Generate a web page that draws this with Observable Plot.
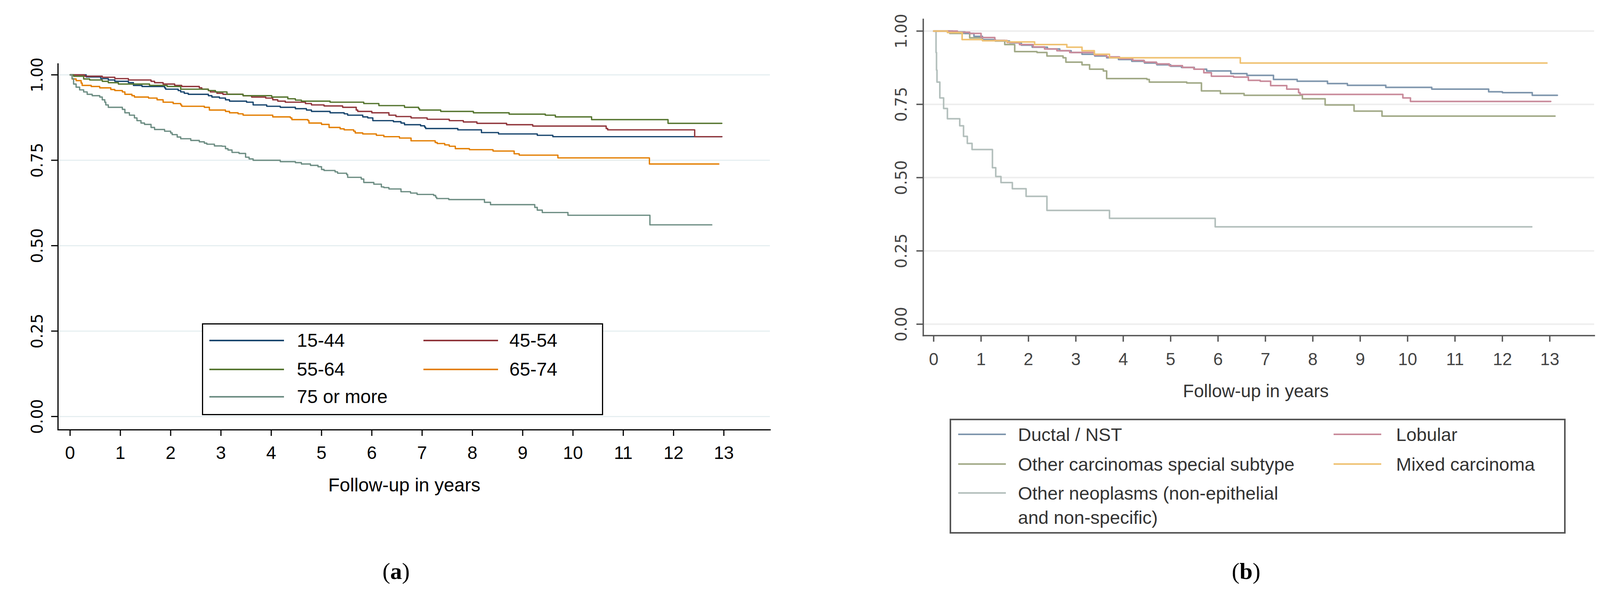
<!DOCTYPE html>
<html>
<head>
<meta charset="utf-8">
<script src="https://cdn.jsdelivr.net/npm/d3@7"></script>
<script src="https://cdn.jsdelivr.net/npm/@observablehq/plot@0.6"></script>
<style>
html,body{margin:0;padding:0;background:#fff;}
body{width:4111px;height:1522px;position:relative;overflow:hidden;font-family:"Liberation Sans",Arial,sans-serif;}
.abs{position:absolute;}
.legend{position:absolute;background:#fff;box-sizing:border-box;}
.sw{position:absolute;height:4px;}
.lt{position:absolute;white-space:nowrap;line-height:1;}
.cap{position:absolute;font-family:"Liberation Serif","Times New Roman",serif;font-size:60px;transform:translate(-50%,-50%);}
.xt{position:absolute;white-space:nowrap;transform:translate(-50%,-50%);}
</style>
</head>
<body>
<div id="pa" class="abs" style="left:0;top:0"></div>
<div id="pb" class="abs" style="left:2100px;top:0"></div>
<div id="la" class="legend" style="left:517px;top:827px;width:1027px;height:235px;border:3px solid #000;"></div>
<div id="lb" class="legend" style="left:2431px;top:1071px;width:1577px;height:294px;border:4px solid #555;"></div>
<div class="xt" style="left:1035px;top:1240px;font-size:48px;color:#000;">Follow-up in years</div>
<div class="xt" style="left:3215px;top:1000px;font-size:46px;color:#333;">Follow-up in years</div>
<div class="cap" style="left:1014px;top:1461px;">(<b>a</b>)</div>
<div class="cap" style="left:3190px;top:1461px;">(<b>b</b>)</div>
<script>
// ---------- shared ticks ----------
const yTicks = [0, 0.25, 0.5, 0.75, 1];
const xTicks = [0, 1, 2, 3, 4, 5, 6, 7, 8, 9, 10, 11, 12, 13];

// ---------- panel (a): age groups ----------
const namesA = ["15-44", "45-54", "55-64", "65-74", "75 or more"];
const colorsA = ["#1a476f", "#90353b", "#55752f", "#e37e00", "#6e8e84"];

const age15_44 = [[0,1],[0.32,0.994],[0.61,0.989],[0.76,0.985],[0.89,0.981],[1.16,0.977],[1.26,0.969],[1.43,0.966],[1.88,0.962],[1.90,0.958],[2.15,0.954],[2.20,0.950],[2.27,0.946],[2.35,0.943],[2.75,0.939],[2.82,0.935],[2.97,0.932],[3.09,0.927],[3.17,0.923],[3.51,0.920],[3.64,0.912],[3.91,0.908],[4.18,0.905],[4.48,0.901],[4.70,0.897],[4.80,0.893],[5.17,0.889],[5.45,0.886],[5.52,0.882],[5.82,0.877],[5.92,0.874],[6.02,0.866],[6.43,0.863],[6.58,0.859],[6.65,0.854],[6.97,0.851],[7.05,0.847],[7.07,0.843],[7.71,0.839],[8.18,0.831],[8.52,0.827],[9.29,0.823],[9.60,0.819],[12.96,0.819]];
const age45_54 = [[0,1],[0.29,0.996],[0.64,0.993],[0.89,0.989],[1.16,0.985],[1.61,0.981],[1.68,0.977],[1.85,0.973],[2.08,0.969],[2.22,0.966],[2.57,0.962],[2.62,0.958],[2.75,0.954],[2.79,0.950],[2.92,0.946],[3.04,0.943],[3.44,0.939],[3.61,0.935],[3.89,0.932],[4.03,0.927],[4.13,0.923],[4.28,0.920],[4.68,0.916],[4.80,0.912],[5.05,0.909],[5.42,0.905],[5.69,0.897],[5.72,0.893],[6.00,0.889],[6.34,0.882],[6.48,0.878],[6.78,0.874],[7.10,0.870],[7.54,0.866],[7.82,0.862],[8.09,0.858],[8.68,0.854],[9.20,0.850],[10.66,0.843],[10.69,0.839],[12.42,0.819],[12.96,0.819]];
const age55_64 = [[0,1],[0.07,0.996],[0.27,0.988],[0.39,0.985],[0.64,0.981],[0.76,0.977],[0.96,0.973],[1.58,0.969],[1.93,0.966],[2.20,0.958],[2.75,0.954],[2.89,0.950],[3.12,0.943],[3.44,0.939],[4.01,0.935],[4.33,0.930],[4.48,0.926],[4.60,0.923],[5.17,0.920],[5.84,0.916],[6.14,0.910],[6.65,0.905],[6.93,0.901],[6.95,0.897],[7.37,0.893],[8.02,0.889],[8.73,0.885],[9.45,0.882],[9.65,0.877],[10.37,0.869],[11.89,0.858],[12.96,0.858]];
const age65_74 = [[0,1],[0.04,0.988],[0.12,0.983],[0.22,0.976],[0.24,0.969],[0.42,0.966],[0.59,0.962],[0.81,0.957],[0.89,0.954],[1.04,0.950],[1.09,0.943],[1.23,0.939],[1.28,0.935],[1.56,0.932],[1.73,0.927],[1.85,0.920],[2.05,0.916],[2.20,0.912],[2.22,0.908],[2.67,0.905],[2.77,0.897],[3.09,0.893],[3.17,0.889],[3.34,0.886],[3.44,0.882],[4.03,0.877],[4.38,0.874],[4.41,0.869],[4.73,0.866],[4.75,0.859],[5.00,0.855],[5.15,0.846],[5.37,0.842],[5.45,0.839],[5.64,0.835],[5.67,0.830],[5.82,0.827],[6.09,0.823],[6.24,0.819],[6.55,0.815],[6.78,0.807],[7.26,0.802],[7.30,0.799],[7.45,0.795],[7.54,0.791],[7.66,0.784],[7.94,0.781],[8.41,0.777],[8.83,0.769],[8.93,0.765],[9.70,0.757],[11.52,0.739],[12.90,0.739]];
const age75plus = [[0,1],[0.04,0.989],[0.07,0.973],[0.12,0.964],[0.19,0.956],[0.27,0.950],[0.34,0.943],[0.44,0.939],[0.59,0.935],[0.64,0.927],[0.69,0.920],[0.71,0.912],[0.76,0.905],[1.04,0.899],[1.09,0.889],[1.18,0.882],[1.28,0.874],[1.33,0.866],[1.41,0.859],[1.48,0.855],[1.61,0.846],[1.68,0.840],[1.88,0.835],[2.00,0.830],[2.03,0.825],[2.13,0.818],[2.20,0.813],[2.40,0.808],[2.57,0.804],[2.67,0.800],[2.72,0.797],[2.87,0.792],[3.02,0.791],[3.09,0.784],[3.14,0.780],[3.22,0.773],[3.36,0.770],[3.49,0.759],[3.56,0.754],[3.64,0.750],[4.18,0.746],[4.48,0.743],[4.60,0.739],[4.78,0.735],[4.93,0.731],[5.00,0.723],[5.05,0.720],[5.27,0.716],[5.32,0.712],[5.50,0.708],[5.52,0.700],[5.79,0.695],[5.84,0.685],[6.04,0.680],[6.19,0.672],[6.24,0.670],[6.34,0.666],[6.58,0.658],[6.77,0.654],[6.90,0.650],[7.23,0.647],[7.27,0.642],[7.29,0.638],[7.53,0.635],[8.24,0.627],[8.36,0.620],[9.24,0.612],[9.29,0.604],[9.39,0.597],[9.90,0.589],[11.53,0.561],[12.76,0.561]];

// ---------- panel (b): histological type ----------
const namesB = ["Ductal / NST", "Lobular", "Other carcinomas special subtype", "Mixed carcinoma", "Other neoplasms (non-epithelial\nand non-specific)"];
const colorsB = ["#7f96ad", "#c98b9b", "#a2aa88", "#efc273", "#b3bfbc"];

const ductal = [[0,1],[0.40,0.997],[0.66,0.992],[0.85,0.982],[1.03,0.971],[1.30,0.966],[1.60,0.960],[1.85,0.952],[2.08,0.945],[2.40,0.939],[2.66,0.933],[2.90,0.927],[3.13,0.921],[3.40,0.915],[3.65,0.909],[3.90,0.903],[4.18,0.897],[4.45,0.891],[4.71,0.885],[5.00,0.880],[5.23,0.876],[5.50,0.870],[5.76,0.864],[6.27,0.855],[6.61,0.849],[7.17,0.835],[7.67,0.829],[8.31,0.821],[8.73,0.815],[9.54,0.808],[10.51,0.802],[11.71,0.793],[12.00,0.790],[12.63,0.781],[13.16,0.781]];
const lobular = [[0,1],[0.50,0.996],[0.76,0.992],[1.00,0.978],[1.29,0.968],[1.55,0.961],[1.81,0.954],[2.10,0.946],[2.34,0.939],[2.60,0.933],[2.87,0.927],[3.39,0.918],[3.65,0.912],[3.92,0.906],[4.20,0.900],[4.44,0.894],[4.70,0.888],[4.97,0.882],[5.25,0.876],[5.49,0.870],[5.70,0.858],[5.86,0.846],[6.33,0.843],[6.64,0.832],[6.89,0.829],[7.11,0.814],[7.45,0.802],[7.70,0.790],[7.73,0.784],[9.90,0.772],[10.06,0.760],[13.02,0.760]];
const otherCarc = [[0,1],[0.34,0.992],[0.76,0.977],[1.03,0.968],[1.50,0.954],[1.71,0.930],[2.18,0.927],[2.39,0.915],[2.73,0.909],[2.79,0.894],[3.13,0.885],[3.29,0.870],[3.58,0.864],[3.65,0.838],[4.50,0.835],[4.55,0.826],[5.34,0.823],[5.65,0.796],[6.05,0.787],[6.55,0.781],[7.78,0.769],[8.26,0.748],[8.87,0.727],[9.46,0.710],[13.11,0.710]];
const mixed = [[0,1],[0.29,0.995],[0.60,0.971],[1.03,0.967],[1.55,0.963],[2.13,0.954],[2.81,0.945],[3.13,0.933],[3.39,0.921],[3.71,0.909],[6.47,0.891],[12.94,0.891]];
const otherNeo = [[0,1],[0.05,0.927],[0.06,0.867],[0.07,0.826],[0.13,0.772],[0.21,0.736],[0.29,0.701],[0.55,0.677],[0.63,0.641],[0.71,0.617],[0.81,0.596],[1.24,0.534],[1.31,0.504],[1.42,0.483],[1.66,0.462],[1.95,0.436],[2.39,0.388],[3.71,0.361],[5.94,0.332],[12.62,0.332]];

// ---------- build tables ----------
const seriesA = [age15_44, age45_54, age55_64, age65_74, age75plus];
const rowsA = seriesA.flatMap((s, i) => s.map(([t, v]) => ({t, v, g: namesA[i]})));
const seriesB = [otherNeo, otherCarc, ductal, lobular, mixed];
const orderB = [4, 2, 0, 1, 3];
const rowsB = seriesB.flatMap((s, i) => s.map(([t, v]) => ({t, v, g: namesB[orderB[i]]})));

const fmtY = d3.format(".2f");
const fmtX = d3.format("d");

const plotA = Plot.plot({
  width: 2050, height: 1200,
  marginLeft: 148, marginTop: 163, marginRight: 79, marginBottom: 101,
  x: {domain: [-0.24, 13.92]},
  y: {domain: [-0.039, 1.032]},
  color: {domain: namesA, range: colorsA},
  style: {background: "transparent", overflow: "visible", color: "#000"},
  marks: [
    Plot.gridY(yTicks, {stroke: "#e6eff1", strokeOpacity: 1, strokeWidth: 3}),
    Plot.frame({anchor: "left", stroke: "#000", strokeWidth: 3}),
    Plot.frame({anchor: "bottom", stroke: "#000", strokeWidth: 3}),
    Plot.axisY(yTicks, {tickSize: 17, tickRotate: -90, tickPadding: 23, tickFormat: fmtY, fontSize: 40, fontFamily: "DejaVu Sans", label: null, strokeWidth: 3, fill: "#000"}),
    Plot.axisX(xTicks, {tickSize: 16, tickPadding: 26, tickFormat: fmtX, fontSize: 46, fontFamily: "Liberation Sans", label: null, strokeWidth: 3, fill: "#000"}),
    Plot.line(rowsA, {x: "t", y: "v", z: "g", stroke: "g", curve: "step-after", strokeWidth: 3.4})
  ]
});
document.getElementById("pa").appendChild(plotA);

const plotB = Plot.plot({
  width: 2011, height: 960,
  marginLeft: 263, marginTop: 49, marginRight: 30, marginBottom: 102,
  x: {domain: [-0.22, 13.94]},
  y: {domain: [-0.039, 1.04]},
  color: {domain: namesB, range: colorsB},
  style: {background: "transparent", overflow: "visible", color: "#444"},
  marks: [
    Plot.gridY(yTicks, {stroke: "#eeeeee", strokeOpacity: 1, strokeWidth: 4}),
    Plot.frame({anchor: "left", stroke: "#555", strokeWidth: 3.5}),
    Plot.frame({anchor: "bottom", stroke: "#555", strokeWidth: 3.5}),
    Plot.axisY(yTicks, {tickSize: 17, tickRotate: -90, tickPadding: 26, tickFormat: fmtY, fontSize: 40, fontFamily: "DejaVu Sans", label: null, strokeWidth: 3.5, stroke: "#555", fill: "#444"}),
    Plot.axisX(xTicks, {tickSize: 16, tickPadding: 28, tickFormat: fmtX, fontSize: 44, fontFamily: "Liberation Sans", label: null, strokeWidth: 3.5, stroke: "#555", fill: "#444"}),
    Plot.line(rowsB, {x: "t", y: "v", z: "g", stroke: "g", curve: "step-after", strokeWidth: 4})
  ]
});
document.getElementById("pb").appendChild(plotB);

// ---------- legends ----------
function legend(el, names, colors, pos, font, textColor, swW) {
  names.forEach((n, i) => {
    const p = pos[i];
    const sw = document.createElement("div");
    sw.className = "sw";
    sw.style.left = p[0] + "px"; sw.style.top = (p[1] - 2) + "px";
    sw.style.width = swW + "px"; sw.style.background = colors[i];
    el.appendChild(sw);
    const t = document.createElement("div");
    t.className = "lt";
    t.style.left = p[2] + "px"; t.style.top = (p[1] - font * 0.5) + "px";
    t.style.fontSize = font + "px"; t.style.color = textColor;
    n.split("\n").forEach((line, j) => {
      const d = document.createElement("div");
      d.textContent = line;
      d.style.height = (font * 1.32) + "px";
      t.appendChild(d);
    });
    el.appendChild(t);
  });
}
// positions relative to legend box content (left, row center y, text left)
legend(document.getElementById("la"), namesA, colorsA,
  [[16, 41, 240], [564, 41, 784], [16, 115, 240], [564, 115, 784], [16, 185, 240]], 48, "#000", 191);
legend(document.getElementById("lb"), namesB, colorsB,
  [[18, 36, 171], [979, 36, 1139], [18, 112, 171], [979, 112, 1139], [18, 186, 171]], 47, "#333", 122);
</script>
</body>
</html>
